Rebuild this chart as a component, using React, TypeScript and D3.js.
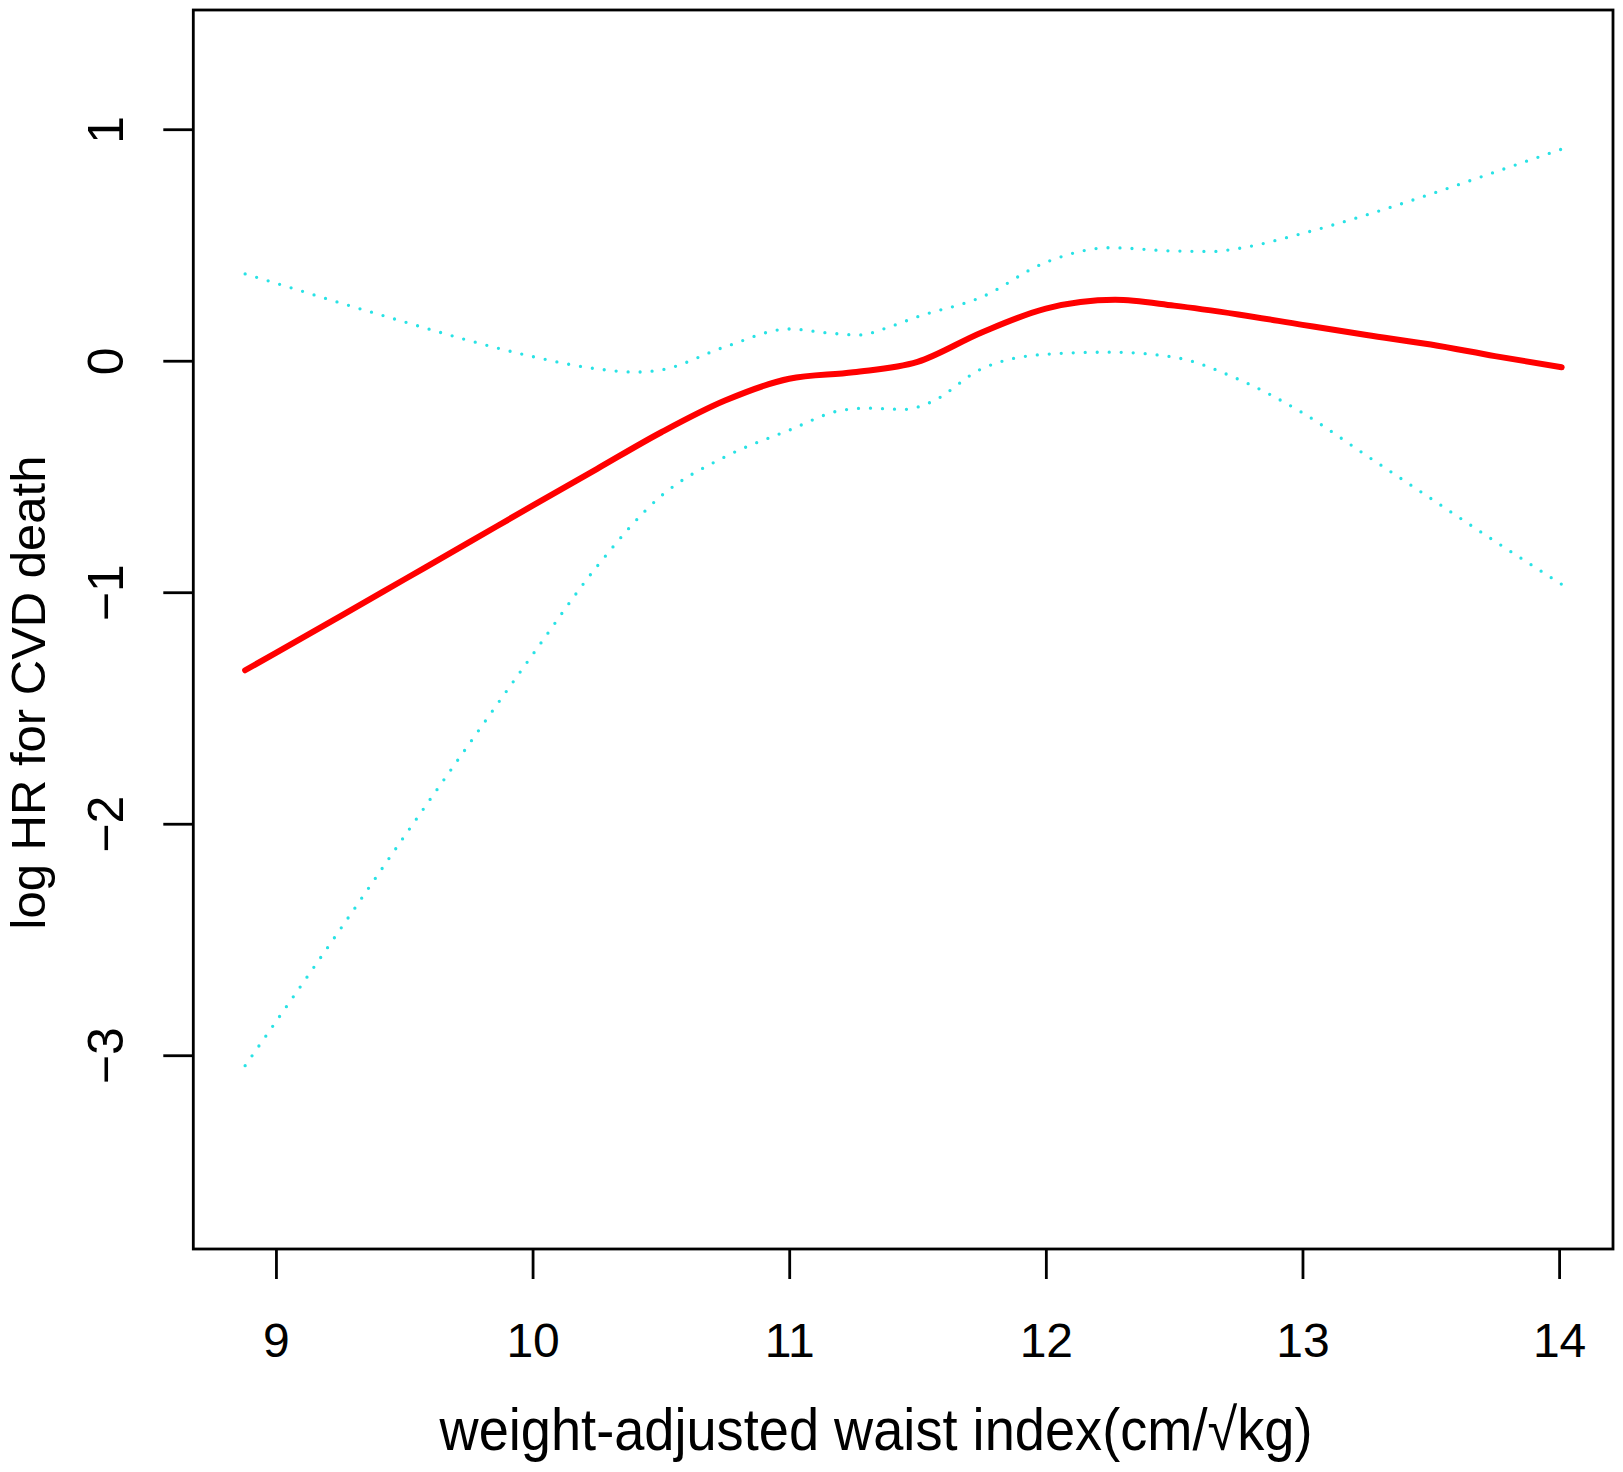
import React, { useEffect, useRef } from 'react';
import * as d3 from 'd3';

// fitted log HR (solid red)
const xFit = [8.88, 9.0, 9.25, 9.5, 9.75, 10.0, 10.25, 10.5, 10.75, 11.0, 11.25, 11.5, 11.75, 12.0, 12.27, 12.5, 12.75, 13.0, 13.25, 13.5, 13.75, 14.01];
const fit = [-1.337, -1.262, -1.104, -0.945, -0.786, -0.626, -0.468, -0.31, -0.172, -0.078, -0.05, -0.005, 0.122, 0.225, 0.263, 0.238, 0.2, 0.155, 0.111, 0.07, 0.02, -0.028];

// upper 95% CI (dotted)
const xUpper = [8.88, 9.0, 9.25, 9.5, 9.75, 10.0, 10.25, 10.4, 10.5, 10.75, 11.0, 11.15, 11.27, 11.4, 11.5, 11.75, 12.0, 12.25, 12.5, 12.65, 12.75, 13.0, 13.25, 13.5, 13.75, 14.01];
const upper = [0.375, 0.335, 0.25, 0.168, 0.088, 0.018, -0.035, -0.049, -0.04, 0.06, 0.137, 0.12, 0.111, 0.15, 0.19, 0.275, 0.425, 0.488, 0.474, 0.472, 0.485, 0.55, 0.63, 0.72, 0.815, 0.914];

// lower 95% CI (dotted)
const xLower = [8.88, 9.0, 9.25, 9.5, 9.75, 10.0, 10.25, 10.5, 10.75, 11.0, 11.2, 11.3, 11.45, 11.55, 11.75, 12.0, 12.25, 12.5, 12.75, 13.0, 13.25, 13.5, 13.75, 14.01];
const lower = [-3.045, -2.855, -2.457, -2.055, -1.66, -1.27, -0.89, -0.585, -0.415, -0.3, -0.215, -0.205, -0.21, -0.18, -0.035, 0.028, 0.037, 0.015, -0.08, -0.225, -0.41, -0.595, -0.78, -0.966];

const xTicks = [9, 10, 11, 12, 13, 14];
const yTicks = [-3, -2, -1, 0, 1];
const xTitle = 'weight-adjusted waist index(cm/√kg)';
const yTitle = 'log HR for CVD death';

const W = 1623;
const H = 1472;
const box = { left: 193.3, right: 1613, top: 10, bottom: 1249 };
const font = '"Liberation Sans", Arial, Helvetica, sans-serif';

const App = () => {
  const ref = useRef<SVGSVGElement | null>(null);

  useEffect(() => {
    document.body.style.margin = '0';
    if (!ref.current) {
      return;
    }
    const svg = d3.select(ref.current);
    svg.selectAll('*').remove();

    const x = d3.scaleLinear().domain([8.678, 14.21]).range([box.left, box.right]);
    const y = d3.scaleLinear().domain([-3.837, 1.515]).range([box.bottom, box.top]);

    const line = (xs: number[], ys: number[]) =>
      d3
        .line<number>()
        .x((d, i) => x(xs[i]))
        .y((d) => y(d))
        .curve(d3.curveMonotoneX)(ys);

    svg.append('rect').attr('width', W).attr('height', H).attr('fill', '#fff');

    // confidence limits
    [
      [xUpper, upper],
      [xLower, lower],
    ].forEach(([xs, ys]) => {
      svg
        .append('path')
        .attr('d', line(xs, ys))
        .attr('fill', 'none')
        .attr('stroke', '#28E2E5')
        .attr('stroke-width', 3.3)
        .attr('stroke-dasharray', '0 12')
        .attr('stroke-linecap', 'round');
    });

    svg
      .append('path')
      .attr('d', line(xFit, fit))
      .attr('fill', 'none')
      .attr('stroke', '#FF0000')
      .attr('stroke-width', 6)
      .attr('stroke-linecap', 'round')
      .attr('stroke-linejoin', 'round');

    svg
      .append('rect')
      .attr('x', box.left)
      .attr('y', box.top)
      .attr('width', box.right - box.left)
      .attr('height', box.bottom - box.top)
      .attr('fill', 'none')
      .attr('stroke', '#000')
      .attr('stroke-width', 2.8);

    const gx = svg
      .append('g')
      .attr('transform', `translate(0,${box.bottom})`)
      .call(d3.axisBottom(x).tickValues(xTicks).tickSize(30).tickFormat(d3.format('d')));
    gx.select('.domain').remove();
    gx.selectAll('line').attr('stroke', '#000').attr('stroke-width', 2.8);
    gx.selectAll('text')
      .attr('y', 108)
      .attr('dy', null)
      .attr('fill', '#000')
      .attr('font-family', font)
      .attr('font-size', 48);

    const gy = svg
      .append('g')
      .attr('transform', `translate(${box.left},0)`)
      .call(d3.axisLeft(y).tickValues(yTicks).tickSize(30).tickFormat(d3.format('d')));
    gy.select('.domain').remove();
    gy.selectAll('line').attr('stroke', '#000').attr('stroke-width', 2.8);
    gy.selectAll('text')
      .attr('x', 0)
      .attr('dy', null)
      .attr('text-anchor', 'middle')
      .attr('transform', `translate(${122.7 - box.left},0) rotate(-90)`)
      .attr('fill', '#000')
      .attr('font-family', font)
      .attr('font-size', 50);

    svg
      .append('text')
      .attr('x', 876)
      .attr('y', 1450)
      .attr('text-anchor', 'middle')
      .attr('font-family', font)
      .attr('font-size', 59)
      .attr('textLength', 873)
      .attr('lengthAdjust', 'spacingAndGlyphs')
      .text(xTitle);

    svg
      .append('text')
      .attr('transform', 'translate(45,692.5) rotate(-90)')
      .attr('text-anchor', 'middle')
      .attr('font-family', font)
      .attr('font-size', 49)
      .text(yTitle);
  }, []);

  return <svg ref={ref} width={W} height={H} style={{ display: 'block' }} />;
};

export default App;
